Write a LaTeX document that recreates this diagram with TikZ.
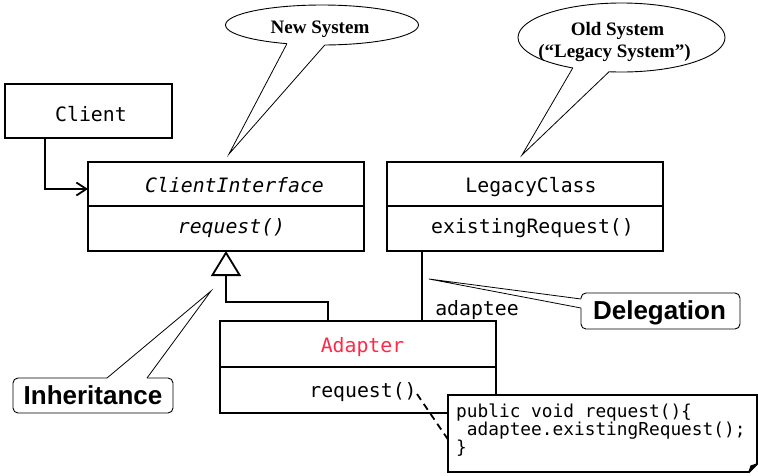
\documentclass[tikz,border=0pt]{standalone}
\usepackage{fontspec}
\setmainfont{Liberation Serif}
\newfontfamily\umlmono{DejaVu Sans Mono}
\newfontfamily\calloutsans{Liberation Sans}
\usetikzlibrary{shapes.geometric,arrows.meta}
\definecolor{adred}{RGB}{255,40,70}
\begin{document}
\begin{tikzpicture}[x=1pt,y=-1pt,
  umlbox/.style={draw,line width=1.8pt,inner sep=0pt,outer sep=0pt,anchor=north west},
  mono/.style={font=\fontsize{19.8}{22}\selectfont\umlmono,inner sep=0pt,anchor=base},
  monoit/.style={font=\fontsize{19.8}{22}\selectfont\umlmono\itshape,inner sep=0pt,anchor=base},
  notetext/.style={font=\fontsize{17.8}{19}\selectfont\umlmono,inner sep=0pt,anchor=base west},
  bubble/.style={draw,ellipse,line width=0.9pt,fill=white,inner sep=0pt,outer sep=0pt},
  bubbletext/.style={font=\fontsize{19}{22}\selectfont\bfseries,inner sep=0pt,anchor=base},
  callbox/.style={draw,rounded corners=5pt,line width=0.9pt,fill=white,inner sep=0pt,outer sep=0pt,anchor=north west},
  calltext/.style={font=\fontsize{26}{30}\selectfont\calloutsans\bfseries,inner sep=0pt,anchor=base},
  tailline/.style={line width=0.8pt},
  conn/.style={line width=1.8pt},
]
\useasboundingbox (0,0) rectangle (758,475);

% classes
\node[umlbox,minimum width=167pt,minimum height=54pt] (client) at (5,84) {};
\node[mono] (clientT) at (91,121) {Client};

\node[umlbox,minimum width=276pt,minimum height=44pt] (ciTop) at (88,162) {};
\node[umlbox,minimum width=276pt,minimum height=45pt] (ciBot) at (88,206) {};
\node[monoit] (ciT) at (234.5,192) {ClientInterface};
\node[monoit] (ciM) at (231.5,233) {request()};

\node[umlbox,minimum width=276pt,minimum height=44pt] (lcTop) at (387,162) {};
\node[umlbox,minimum width=276pt,minimum height=45pt] (lcBot) at (387,206) {};
\node[mono] (lcT) at (531,192) {LegacyClass};
\node[mono] (lcM) at (532.5,233) {existingRequest()};

\node[umlbox,minimum width=276pt,minimum height=46pt] (adTop) at (220,321) {};
\node[umlbox,minimum width=276pt,minimum height=46pt] (adBot) at (220,367) {};
\node[mono,text=adred] (adT) at (362.5,352) {Adapter};
\node[mono] (adM) at (363,397) {request()};

% connectors
\draw[conn,-{Straight Barb[length=10pt,width=13pt]}] ([xshift=40pt]client.south west) |- ([yshift=-5pt]ciTop.west);
\draw[conn,-{Triangle[open,length=25pt,width=30pt]}] ([xshift=-30pt]adTop.north) -- ++(0,-19) -| (ciBot.south);
\coordinate (dA) at ([xshift=35pt]lcBot.south west);
\draw[conn] (dA) -- (dA |- adTop.north);
\node[mono] (adaptee) at (477,315) {adaptee};

% note
\node[inner sep=0pt,outer sep=0pt,anchor=north west,minimum width=309pt,minimum height=77pt] (note) at (448,395) {};
\draw[conn,fill=white] (note.north west) -- (note.north east) -- ([yshift=8pt]note.south east) -- ([xshift=-8pt]note.south east) -- (note.south west) -- cycle;
\draw[line width=1.2pt,fill=black] ([yshift=8pt]note.south east) -- ([xshift=-6pt,yshift=6pt]note.south east) -- ([xshift=-8pt]note.south east);
\node[notetext] (n1) at (456,417) {public void request()\{};
\node[notetext] (n2) at (456,435) {\hphantom{a}adaptee.existingRequest();};
\node[notetext] (n3) at (456,453) {\}};
\coordinate (dstart) at (417,394);
\draw[conn,dash pattern=on 7pt off 5pt] (dstart) -- ([yshift=-6pt]note.west);

% bubbles
\node[bubble,minimum width=193pt,minimum height=40pt] (newsys) at (322,25) {};
\coordinate (newtip) at (229,154);
\fill[white] (newtip) -- (newsys.208.8) -- ([yshift=4pt]newsys.208.8) -- ([yshift=4pt]newsys.278.5) -- (newsys.278.5) -- cycle;
\draw[tailline] (newsys.208.8) -- (newtip) -- (newsys.278.5);
\node[bubbletext] (newT) at (320,33) {New System};

\node[bubble,minimum width=207pt,minimum height=69pt] (oldsys) at (621.5,37.5) {};
\coordinate (oldtip) at (522,155);
\fill[white] (oldtip) -- (oldsys.212.2) -- ([yshift=4pt]oldsys.212.2) -- ([yshift=4pt]oldsys.250.1) -- (oldsys.250.1) -- cycle;
\draw[tailline] (oldsys.212.2) -- (oldtip) -- (oldsys.250.1);
\node[bubbletext] (oldT1) at (617.5,35) {Old System};
\node[bubbletext] (oldT2) at (614.5,57.5) {(“Legacy System”)};

% callout boxes
\node[callbox,minimum width=160pt,minimum height=35pt] (inh) at (13,378) {};
\coordinate (inhtip) at (211,291);
\fill[white] (inhtip) -- ([xshift=94pt]inh.north west) -- ([xshift=94pt,yshift=-3pt]inh.north west) -- ([xshift=134pt,yshift=-3pt]inh.north west) -- ([xshift=134pt]inh.north west) -- cycle;
\draw[tailline] ([xshift=94pt]inh.north west) -- (inhtip) -- ([xshift=134pt]inh.north west);
\node[calltext] (inhT) at (93,404) {Inheritance};

\node[callbox,minimum width=159pt,minimum height=36pt] (del) at (581,293) {};
\coordinate (deltip) at (429,279);
\fill[white] (deltip) -- ([yshift=-6pt]del.north west) -- ([xshift=3pt,yshift=-6pt]del.north west) -- ([xshift=3pt,yshift=-15pt]del.north west) -- ([yshift=-15pt]del.north west) -- cycle;
\draw[tailline] ([yshift=-6pt]del.north west) -- (deltip) -- ([yshift=-15pt]del.north west);
\node[calltext] (delT) at (659.5,319) {Delegation};
\end{tikzpicture}
\end{document}
